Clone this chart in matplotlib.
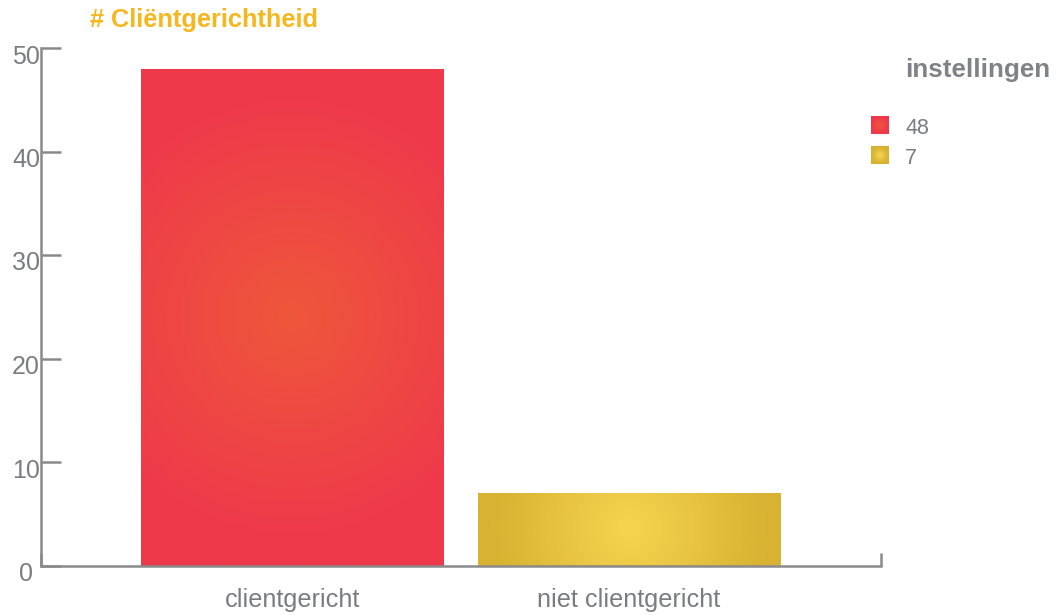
import numpy as np
import matplotlib
matplotlib.use("Agg")
import matplotlib.pyplot as plt
from matplotlib.colors import to_rgb
from matplotlib.transforms import ScaledTranslation

# Data
categories = ["clientgericht", "niet clientgericht"]
values = [48, 7]
legend_labels = ["48", "7"]
legend_title = "instellingen"
chart_title = "# Cliëntgerichtheid"
y_ticks = [0, 10, 20, 30, 40, 50]

# Radial gradient colours per bar: (centre, edge)
bar_colors = [("#EF573B", "#EE394B"), ("#F6D550", "#D8B232")]

AXIS_GREY = "#8A8A8C"
TEXT_GREY = "#7B7C7E"
TITLE_COLOR = "#F6B71E"

plt.rcParams["font.family"] = ["Liberation Sans", "DejaVu Sans"]

W, H = 1059, 615
fig = plt.figure(figsize=(W / 100, H / 100), dpi=100)
ax = fig.add_axes([40.5 / W, 49.5 / H, 840.5 / W, 517.5 / H])


def radial_gradient(c_center, c_edge, w_px, h_px, r_frac=0.9, n=300):
    """Circular gradient (in screen pixels) filling a w_px x h_px box."""
    half = max(w_px, h_px) / 2
    nx = max(int(n * w_px / (2 * half)), 4)
    ny = max(int(n * h_px / (2 * half)), 4)
    u = np.linspace(-w_px / 2, w_px / 2, nx)
    v = np.linspace(-h_px / 2, h_px / 2, ny)
    uu, vv = np.meshgrid(u, v)
    t = np.clip(np.sqrt(uu ** 2 + vv ** 2) / (r_frac * half), 0, 1)[..., None]
    c0 = np.array(to_rgb(c_center))
    c1 = np.array(to_rgb(c_edge))
    return c0 + (c1 - c0) * t


x = np.arange(len(categories))
ax.set_xlim(-0.75, len(categories) - 0.25)
ax.set_ylim(0, 50)

bars = ax.bar(x, values, width=0.9, color=[c[1] for c in bar_colors], zorder=2)
for bar, (c0, c1) in zip(bars, bar_colors):
    bx, by = bar.get_x(), bar.get_y()
    bw, bh = bar.get_width(), bar.get_height()
    p0 = ax.transData.transform((bx, by))
    p1 = ax.transData.transform((bx + bw, by + bh))
    w_px, h_px = abs(p1[0] - p0[0]), abs(p1[1] - p0[1])
    img = radial_gradient(c0, c1, w_px, h_px)
    im = ax.imshow(img, extent=(bx, bx + bw, by, by + bh), aspect="auto",
                   interpolation="bilinear", zorder=3)
    im.set_clip_path(bar)

ax.set_xlim(-0.75, len(categories) - 0.25)
ax.set_ylim(0, 50)

# Axes styling
for side in ("top", "right"):
    ax.spines[side].set_visible(False)
for side in ("left", "bottom"):
    ax.spines[side].set_color(AXIS_GREY)
    ax.spines[side].set_linewidth(1.8)
    ax.spines[side].set_zorder(4)

ax.set_yticks(y_ticks)
ax.set_yticklabels([])
ax.tick_params(axis="y", direction="in", length=14.4, width=1.8, color=AXIS_GREY)
ax.set_xticks([])

# End caps on the x axis
for xa in (0, 1):
    ax.plot([xa, xa], [0, 13 / 517.5], transform=ax.transAxes, color=AXIS_GREY,
            lw=1.8, solid_capstyle="butt", clip_on=False, zorder=4)

# Y tick labels, centred left of the axis and dropped slightly below the tick
ytrans = ax.get_yaxis_transform() + ScaledTranslation(-14.5 / 100, -15.5 / 100, fig.dpi_scale_trans)
for t in y_ticks:
    ax.text(0, t, str(t), transform=ytrans, ha="center", va="baseline",
            fontsize=18, color=TEXT_GREY, clip_on=False)

# Category labels
xtrans = ax.get_xaxis_transform() + ScaledTranslation(0, -41 / 100, fig.dpi_scale_trans)
for xi, cat in zip(x, categories):
    ax.text(xi, 0, cat, transform=xtrans, ha="center", va="baseline",
            fontsize=18.2, color=TEXT_GREY, clip_on=False)

# Overlay for title and legend in pixel coordinates
ov = fig.add_axes([0, 0, 1, 1], zorder=10)
ov.set_xlim(0, W)
ov.set_ylim(H, 0)
ov.axis("off")

ov.text(90, 27.5, chart_title, fontsize=18.3, fontweight="bold",
        color=TITLE_COLOR, ha="left", va="baseline")

ov.text(905, 77, legend_title, fontsize=18.7, fontweight="bold",
        color="#7F8286", ha="left", va="baseline")

for i, (lab, (c0, c1)) in enumerate(zip(legend_labels, bar_colors)):
    top = 116 + i * 30
    ov.imshow(radial_gradient(c0, c1, 18, 18, n=40), extent=(871, 889, top + 18, top),
              aspect="auto", interpolation="bilinear")
    ov.text(905, top + 17.5, lab, fontsize=15.5, color=TEXT_GREY,
            ha="left", va="baseline")
ov.set_xlim(0, W)
ov.set_ylim(H, 0)

fig.savefig("out.png", dpi=100)
